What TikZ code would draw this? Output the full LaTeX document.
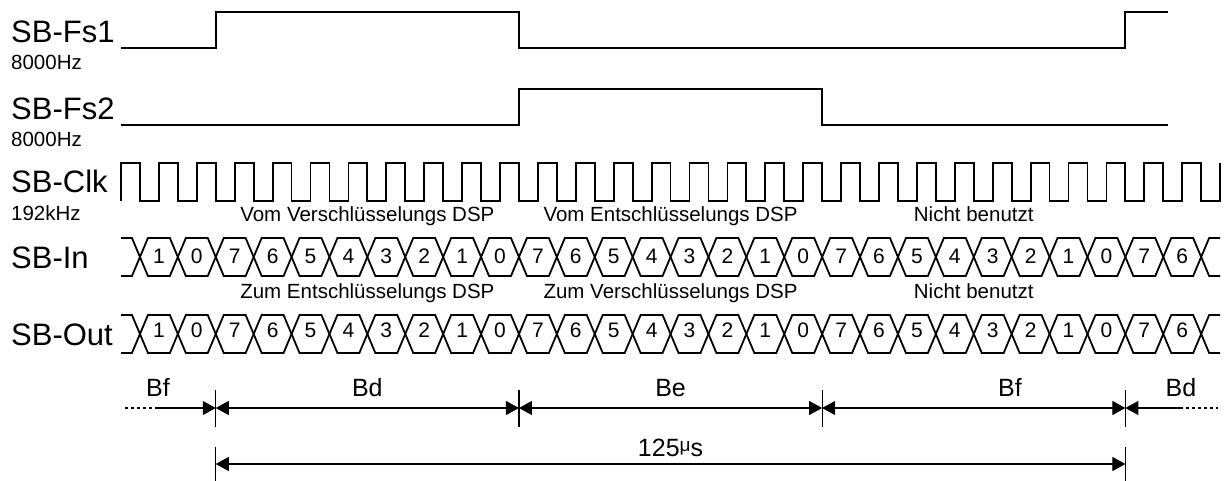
\documentclass[tikz,border=0pt]{standalone}
\usepackage{fontspec}
\setmainfont{Liberation Sans}
\usetikzlibrary{arrows.meta}
\begin{document}
\begin{tikzpicture}[x=1pt,y=-1pt,
  sig/.style={line width=1.8pt, line join=miter, line cap=butt},
  bigl/.style={anchor=base west, inner sep=0pt, font=\fontsize{31}{31}\selectfont},
  smalll/.style={anchor=base west, inner sep=0pt, font=\fontsize{20.5}{20.5}\selectfont},
  midl/.style={anchor=base, inner sep=0pt, font=\fontsize{20.5}{20.5}\selectfont},
  digit/.style={anchor=center, inner sep=0pt, font=\fontsize{21}{21}\selectfont},
  diml/.style={anchor=base, inner sep=0pt, font=\fontsize{25}{25}\selectfont},
  dimline/.style={line width=1.2pt},
  tickline/.style={line width=1.2pt},
  tip/.style={-{Triangle[length=13pt,width=14pt]}},
  tips/.style={{Triangle[length=13pt,width=14pt]}-{Triangle[length=13pt,width=14pt]}},
  tipstart/.style={{Triangle[length=13pt,width=14pt]}-},
  dotline/.style={line width=1.2pt, dash pattern=on 3pt off 3pt}
]
\useasboundingbox (0,0) rectangle (1228,481);
\pgfmathsetmacro\T{37.9}
\pgfmathsetmacro\Xs{121}
\pgfmathsetmacro\Xe{1220}
\pgfmathsetmacro\Fa{\Xs+2.5*\T}
\pgfmathsetmacro\Fb{\Xs+10.5*\T}
\pgfmathsetmacro\Fc{\Xs+18.5*\T}
\pgfmathsetmacro\Fd{\Xs+26.5*\T}

% ---------- labels ----------
\node[bigl] (lfs1) at (11,43) {SB-Fs1};
\node[smalll] (ffs1) at (11,70) {8000Hz};
\node[bigl] (lfs2) at (11,120) {SB-Fs2};
\node[smalll] (ffs2) at (11,147) {8000Hz};
\node[bigl] (lclk) at (11,193) {SB-Clk};
\node[smalll] (fclk) at (11,220) {192kHz};
\node[bigl] (lin) at (11,268) {SB-In};
\node[bigl] (lout) at (11,345) {SB-Out};

% ---------- frame syncs ----------
\draw[sig] (\Xs,48) -- (\Fa,48) -- (\Fa,12) -- (\Fb,12) -- (\Fb,48) -- (\Fd,48) -- (\Fd,12) -- (1168,12);
\draw[sig] (\Xs,125) -- (\Fb,125) -- (\Fb,89) -- (\Fc,89) -- (\Fc,125) -- (1168,125);

% ---------- clock ----------
\draw[sig] (\Xs,201) \foreach \k in {0,...,28} { -- ++(0,-38) -- ++(18.95,0) -- ++(0,38) -- ++(18.95,0) } -- ++(0,-38);

% ---------- bus rows ----------
\foreach \yt/\yb/\yd/\nm in {238/276/256/in, 315/353/330/out} {
  \pgfmathsetmacro\ym{(\yt+\yb)/2}
  \pgfmathsetmacro\Fz{\Xs+0.5*\T}
  \pgfmathsetmacro\Fl{\Xs+28.5*\T}
  \draw[sig] (\Xs,\yt) -- (\Fz-8,\yt) -- (\Fz,\ym) -- (\Fz-8,\yb) -- (\Xs,\yb);
  \draw[sig] (\Xe,\yt) -- (\Fl+8,\yt) -- (\Fl,\ym) -- (\Fl+8,\yb) -- (\Xe,\yb);
  \foreach \d [count=\k from 0] in {1,0,7,6,5,4,3,2,1,0,7,6,5,4,3,2,1,0,7,6,5,4,3,2,1,0,7,6} {
    \pgfmathsetmacro\xa{\Xs+(\k+0.5)*\T}
    \pgfmathsetmacro\xb{\Xs+(\k+1.5)*\T}
    \draw[sig] (\xa,\ym) -- (\xa+8,\yt) -- (\xb-8,\yt) -- (\xb,\ym) -- (\xb-8,\yb) -- (\xa+8,\yb) -- cycle;
    \node[digit] (\nm\k) at ({(\xa+\xb)/2},\yd) {\d};
  }
}

% ---------- slot texts ----------
\node[midl] (v1) at ({(\Fa+\Fb)/2},221) {Vom Verschlüsselungs DSP};
\node[midl] (v2) at ({(\Fb+\Fc)/2},221) {Vom Entschlüsselungs DSP};
\node[midl] (v3) at ({(\Fc+\Fd)/2},221) {Nicht benutzt};
\node[midl] (z1) at ({(\Fa+\Fb)/2},298) {Zum Entschlüsselungs DSP};
\node[midl] (z2) at ({(\Fb+\Fc)/2},298) {Zum Verschlüsselungs DSP};
\node[midl] (z3) at ({(\Fc+\Fd)/2},298) {Nicht benutzt};

% ---------- dimension row ----------
\coordinate (ta) at (\Fa,408);
\coordinate (tb) at (\Fb,408);
\coordinate (tc) at (\Fc,408);
\coordinate (td) at (\Fd,408);
\coordinate (lf0) at (125,408);
\coordinate (lf1) at (158,408);
\coordinate (rd1) at (1180,408);
\coordinate (rd0) at (1218,408);
\foreach \c in {ta,tb,tc,td} {
  \draw[tickline] ([yshift=18pt]\c) -- ([yshift=-19pt]\c);
}
\draw[dotline] (lf0) -- (lf1);
\draw[dimline,tip] (lf1) -- (ta);
\draw[dimline,tips] (ta) -- (tb);
\draw[dimline,tips] (tb) -- (tc);
\draw[dimline,tips] (tc) -- (td);
\draw[dimline,tipstart] (td) -- (rd1);
\draw[dotline] (rd1) -- (rd0);
\node[diml] (bf1) at (158,396.5) {Bf};
\node[diml] (bd1) at ({(\Fa+\Fb)/2},396.5) {Bd};
\node[diml] (be1) at ({(\Fb+\Fc)/2},396.5) {Be};
\node[diml] (bf2) at (1010,396.5) {Bf};
\node[diml] (bd2) at (1181,396.5) {Bd};

% ---------- 125 us ----------
\coordinate (pa) at (\Fa,464);
\coordinate (pd) at (\Fd,464);
\draw[tickline] (\Fa,447) -- (\Fa,481);
\draw[tickline] (\Fd,447) -- (\Fd,481);
\draw[dimline,tips] (pa) -- (pd);
\node[diml] (per) at ({(\Fa+\Fd)/2},456) {125\raisebox{5pt}{\fontsize{19}{19}\selectfont μ}s};
\end{tikzpicture}
\end{document}
